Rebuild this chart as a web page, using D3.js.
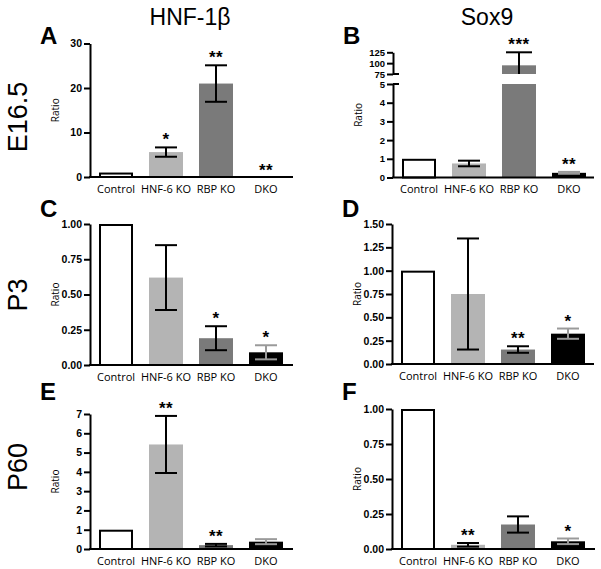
<!DOCTYPE html>
<html>
<head>
<meta charset="utf-8">
<script src="https://cdn.jsdelivr.net/npm/d3@7"></script>
<style>
  body { margin: 0; background: #fff; }
  svg { display: block; }
  .tick text { font-family: "Liberation Sans", Arial, sans-serif; font-weight: bold; font-size: 10.5px; fill: #000; }
</style>
</head>
<body>
<svg id="chart" width="601" height="569"></svg>
<script>
// ---------- data ----------
const categories = ["Control", "HNF-6 KO", "RBP KO", "DKO"];

const aValues = [1, 5.6, 21, 0.03];
const aErr    = [0, 1.05, 4.1, 0];
const aStars  = ["", "*", "**", "**"];
const aTicks  = [0, 10, 20, 30];

const bValues = [1, 0.75, 95, 0.25];
const bErr    = [0, 0.15, 30, 0.05];
const bStars  = ["", "", "***", "**"];
const bLowerTicks = [0, 1, 2, 3, 4, 5];
const bUpperTicks = [75, 100, 125];

const cValues = [1, 0.62, 0.19, 0.09];
const cErr    = [0, 0.23, 0.085, 0.05];
const cStars  = ["", "", "*", "*"];
const cTicks  = [0, 0.25, 0.5, 0.75, 1];

const dValues = [1, 0.75, 0.155, 0.325];
const dErr    = [0, 0.595, 0.035, 0.055];
const dStars  = ["", "", "**", "*"];
const dTicks  = [0, 0.25, 0.5, 0.75, 1, 1.25, 1.5];

const eValues = [1, 5.42, 0.2, 0.38];
const eErr    = [0, 1.48, 0.065, 0.13];
const eStars  = ["", "**", "**", ""];
const eTicks  = [0, 1, 2, 3, 4, 5, 6, 7];

const fValues = [1, 0.03, 0.175, 0.055];
const fErr    = [0, 0.013, 0.058, 0.02];
const fStars  = ["", "**", "", "*"];
const fTicks  = [0, 0.25, 0.5, 0.75, 1];

const columnTitles = ["HNF-1β", "Sox9"];
const rowTitles = ["E16.5", "P3", "P60"];
const panelLetters = ["A", "B", "C", "D", "E", "F"];

// ---------- styles ----------
const fills = ["#ffffff", "#b4b4b4", "#7a7a7a", "#000000"];
const errColors = ["#000", "#000", "#000", "#9a9a9a"];

const svg = d3.select("#chart");

function addStars(g, x, data, yTopFn) {
  g.selectAll("text.star").data(data.filter(d => d.s)).join("text")
    .attr("class", "star")
    .attr("x", d => x(d.c) + x.bandwidth() / 2)
    .attr("y", d => yTopFn(d) + 1)
    .attr("text-anchor", "middle")
    .attr("font-family", "Liberation Sans, Arial, sans-serif")
    .attr("font-weight", "bold").attr("font-size", 17)
    .attr("letter-spacing", 0.5)
    .text(d => d.s);
}

function drawPanel(cfg) {
  const g = svg.append("g");
  const x = d3.scaleBand().domain(categories)
    .range([cfg.x0 + 1, cfg.x0 + 201]).paddingInner(0.32).paddingOuter(0.16);

  const data = categories.map((c, i) => ({ c, i, v: cfg.values[i], e: cfg.err[i], s: cfg.stars[i] }));

  if (!cfg.broken) {
    const y = d3.scaleLinear().domain([0, cfg.max]).range([cfg.yBase, cfg.yTop]);
    g.selectAll("rect.bar").data(data).join("rect")
      .attr("x", d => x(d.c) + (d.i === 0 ? 1 : 0))
      .attr("width", d => x.bandwidth() - (d.i === 0 ? 2 : 0))
      .attr("y", d => y(d.v) + (d.i === 0 ? 1 : 0))
      .attr("height", d => Math.max(0, y(0) - y(d.v) - (d.i === 0 ? 1 : 0)))
      .attr("fill", d => fills[d.i])
      .attr("stroke", d => d.i === 0 ? "#000" : "none")
      .attr("stroke-width", 2);
    const eb = data.filter(d => d.e > 0);
    g.selectAll("line.ev").data(eb).join("line")
      .attr("x1", d => x(d.c) + x.bandwidth() / 2).attr("x2", d => x(d.c) + x.bandwidth() / 2)
      .attr("y1", d => y(d.v - d.e)).attr("y2", d => y(d.v + d.e))
      .attr("stroke", d => errColors[d.i]).attr("stroke-width", 2);
    ["p", "m"].forEach(sg => {
      g.selectAll("line.cap" + sg).data(eb).join("line")
        .attr("class", "cap" + sg)
        .attr("x1", d => x(d.c) + x.bandwidth() / 2 - 11).attr("x2", d => x(d.c) + x.bandwidth() / 2 + 11)
        .attr("y1", d => y(sg === "p" ? d.v + d.e : d.v - d.e))
        .attr("y2", d => y(sg === "p" ? d.v + d.e : d.v - d.e))
        .attr("stroke", d => errColors[d.i]).attr("stroke-width", 2);
    });
    addStars(g, x, data, d => y(d.v + d.e) - (d.e > 0 ? 3 : 2));
    const ax = g.append("g").attr("transform", `translate(${cfg.x0},0)`)
      .call(d3.axisLeft(y).tickValues(cfg.ticks).tickSize(6).tickSizeOuter(0).tickPadding(2)
        .tickFormat(cfg.fmt));
    ax.selectAll("path.domain").attr("stroke", "#000").attr("stroke-width", 2);
    ax.selectAll(".tick line").attr("stroke", "#000").attr("stroke-width", 2);
  } else {
    const yL = d3.scaleLinear().domain([0, 5]).range([cfg.yBase, cfg.yLowTop]);
    const yU = d3.scaleLinear().domain([75, 125]).range([cfg.yUpBase, cfg.yTop]);
    g.selectAll("rect.bar").data(data).join("rect")
      .attr("x", d => x(d.c) + (d.i === 0 ? 1 : 0))
      .attr("width", d => x.bandwidth() - (d.i === 0 ? 2 : 0))
      .attr("y", d => yL(Math.min(d.v, 5)) + (d.i === 0 ? 1 : 0))
      .attr("height", d => yL(0) - yL(Math.min(d.v, 5)) - (d.i === 0 ? 1 : 0))
      .attr("fill", d => fills[d.i])
      .attr("stroke", d => d.i === 0 ? "#000" : "none")
      .attr("stroke-width", 2);
    const big = data.filter(d => d.v > 75);
    g.selectAll("rect.up").data(big).join("rect")
      .attr("x", d => x(d.c)).attr("width", x.bandwidth())
      .attr("y", d => yU(d.v)).attr("height", d => yU(75) - yU(d.v))
      .attr("fill", d => fills[d.i]);
    const smallE = data.filter(d => d.e > 0 && d.v <= 5);
    g.selectAll("line.ev").data(smallE).join("line")
      .attr("x1", d => x(d.c) + x.bandwidth() / 2).attr("x2", d => x(d.c) + x.bandwidth() / 2)
      .attr("y1", d => yL(d.v - d.e)).attr("y2", d => yL(d.v + d.e))
      .attr("stroke", d => errColors[d.i]).attr("stroke-width", 2);
    ["p", "m"].forEach(sg => {
      g.selectAll("line.cap" + sg).data(smallE).join("line")
        .attr("class", "cap" + sg)
        .attr("x1", d => x(d.c) + x.bandwidth() / 2 - 11).attr("x2", d => x(d.c) + x.bandwidth() / 2 + 11)
        .attr("y1", d => yL(sg === "p" ? d.v + d.e : d.v - d.e))
        .attr("y2", d => yL(sg === "p" ? d.v + d.e : d.v - d.e))
        .attr("stroke", d => errColors[d.i]).attr("stroke-width", 2);
    });
    g.selectAll("line.evu").data(big).join("line")
      .attr("x1", d => x(d.c) + x.bandwidth() / 2).attr("x2", d => x(d.c) + x.bandwidth() / 2)
      .attr("y1", d => yU(Math.max(75, d.v - d.e))).attr("y2", d => yU(d.v + d.e))
      .attr("stroke", "#000").attr("stroke-width", 2);
    g.selectAll("line.capu").data(big).join("line")
      .attr("x1", d => x(d.c) + x.bandwidth() / 2 - 13).attr("x2", d => x(d.c) + x.bandwidth() / 2 + 13)
      .attr("y1", d => yU(d.v + d.e)).attr("y2", d => yU(d.v + d.e))
      .attr("stroke", "#000").attr("stroke-width", 2);
    addStars(g, x, data, d => (d.v > 75 ? yU(d.v + d.e) : yL(d.v + d.e)) - 3);
    [[yL, bLowerTicks, 5], [yU, bUpperTicks, 75]].forEach(([sc, tk, brk]) => {
      const ax = g.append("g").attr("transform", `translate(${cfg.x0},0)`)
        .call(d3.axisLeft(sc).tickValues(tk).tickSize(6).tickSizeOuter(0).tickPadding(2).tickFormat(d3.format("d")));
      ax.selectAll("path.domain").attr("stroke", "#000").attr("stroke-width", 2);
      ax.selectAll(".tick line").attr("stroke", "#000").attr("stroke-width", 2);
      ax.selectAll(".tick text").style("font-size", "9.5px");
      ax.append("line").attr("x1", 0).attr("x2", 6)
        .attr("y1", sc(brk)).attr("y2", sc(brk))
        .attr("stroke", "#000").attr("stroke-width", 2);
    });
  }
  // x axis line
  g.append("line").attr("x1", cfg.x0 - 1).attr("x2", cfg.xEnd)
    .attr("y1", cfg.yBase).attr("y2", cfg.yBase)
    .attr("stroke", "#000").attr("stroke-width", 2);
  // category labels
  const xa = g.append("g").attr("transform", `translate(0,${cfg.yBase})`)
    .call(d3.axisBottom(x).tickSize(0).tickPadding(8));
  xa.select("path.domain").remove();
  xa.selectAll("text")
    .style("font-family", "'Open Sans', sans-serif").style("font-size", "11px").style("font-weight", "normal");
  // y label
  g.append("text")
    .attr("transform", `translate(${cfg.x0 - 31},${(cfg.yBase + cfg.yTop) / 2}) rotate(-90)`)
    .attr("text-anchor", "middle")
    .attr("font-family", "'Open Sans', sans-serif").attr("font-size", 10)
    .text("Ratio");
  // panel letter
  g.append("text").attr("x", cfg.x0 - 50).attr("y", cfg.letterY)
    .attr("font-family", "Liberation Sans, Arial, sans-serif").attr("font-weight", "bold")
    .attr("font-size", 24).text(cfg.letter);
}

const f2 = d3.format(".2f"), fd = d3.format("d");

drawPanel({ letter: panelLetters[0], x0: 90, xEnd: 293, yBase: 177, yTop: 43.5, max: 30,
  values: aValues, err: aErr, stars: aStars, ticks: aTicks, fmt: fd, letterY: 44 });
drawPanel({ letter: panelLetters[1], x0: 393, xEnd: 594, yBase: 177.5, yLowTop: 84, yUpBase: 74, yTop: 52.3, broken: true,
  values: bValues, err: bErr, stars: bStars, letterY: 44 });
drawPanel({ letter: panelLetters[2], x0: 90, xEnd: 293, yBase: 365, yTop: 224, max: 1,
  values: cValues, err: cErr, stars: cStars, ticks: cTicks, fmt: f2, letterY: 217 });
drawPanel({ letter: panelLetters[3], x0: 392, xEnd: 594, yBase: 364, yTop: 224, max: 1.5,
  values: dValues, err: dErr, stars: dStars, ticks: dTicks, fmt: f2, letterY: 217 });
drawPanel({ letter: panelLetters[4], x0: 90, xEnd: 293, yBase: 549, yTop: 414, max: 7,
  values: eValues, err: eErr, stars: eStars, ticks: eTicks, fmt: fd, letterY: 400 });
drawPanel({ letter: panelLetters[5], x0: 392, xEnd: 595, yBase: 549, yTop: 409, max: 1,
  values: fValues, err: fErr, stars: fStars, ticks: fTicks, fmt: f2, letterY: 400 });

svg.selectAll("text.coltitle").data(columnTitles).join("text")
  .attr("class", "coltitle")
  .attr("x", (d, i) => i === 0 ? 190 : 487).attr("y", 25)
  .attr("text-anchor", "middle")
  .attr("font-family", "Liberation Sans, Arial, sans-serif").attr("font-size", 23)
  .text(d => d);

const rowCenters = [117, 295, 467];
svg.selectAll("text.rowtitle").data(rowTitles).join("text")
  .attr("class", "rowtitle")
  .attr("transform", (d, i) => `translate(27,${rowCenters[i]}) rotate(-90)`)
  .attr("text-anchor", "middle")
  .attr("font-family", "Liberation Sans, Arial, sans-serif").attr("font-size", 27)
  .text(d => d);
</script>
</body>
</html>
